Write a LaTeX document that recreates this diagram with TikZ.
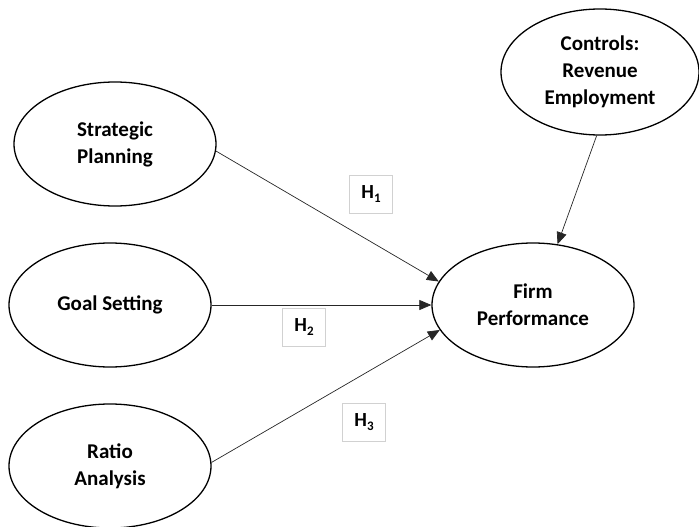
\documentclass[tikz,border=0pt]{standalone}
\usepackage{fontspec}
\setmainfont{Carlito}
\usetikzlibrary{shapes.geometric,arrows.meta}
\begin{document}
\begin{tikzpicture}[x=1pt,y=-1pt,
  construct/.style={draw=black,line width=1.3pt,ellipse,minimum width=202pt,minimum height=124pt,inner sep=0pt,align=center,font=\fontsize{21}{27}\selectfont\bfseries},
  hyp/.style={draw=black!18,line width=0.6pt,minimum width=43pt,minimum height=38pt,inner sep=0pt,font=\fontsize{20}{20}\selectfont\bfseries},
  path/.style={draw=black!85,line width=0.7pt,-{Triangle[length=12pt,width=10pt]}}]
\useasboundingbox (0,0) rectangle (699,527);
\node[construct] (sp) at (115,144) {Strategic\\Planning};
\node[construct] (gs) at (110,305) {Goal Setting};
\node[construct] (ra) at (110,466) {Ratio\\Analysis};
\node[construct] (fp) at (533,305) {Firm\\Performance};
\node[construct,minimum width=198pt,minimum height=126pt] (ct) at (600,72) {Controls:\\Revenue\\Employment};
\node[hyp] (h1) at (371,194) {H\raisebox{-0.35ex}{\fontsize{13}{13}\selectfont 1}};
\node[hyp] (h2) at (304,327) {H\raisebox{-0.35ex}{\fontsize{13}{13}\selectfont 2}};
\node[hyp] (h3) at (364,422) {H\raisebox{-0.35ex}{\fontsize{13}{13}\selectfont 3}};
\draw[path] (sp.-4) -- (fp.166);
\draw[path] (gs.0) -- (fp.180);
\draw[path] (ra.2) -- (fp.195);
\draw[path] (ct.267) -- (fp.68);
\end{tikzpicture}
\end{document}
